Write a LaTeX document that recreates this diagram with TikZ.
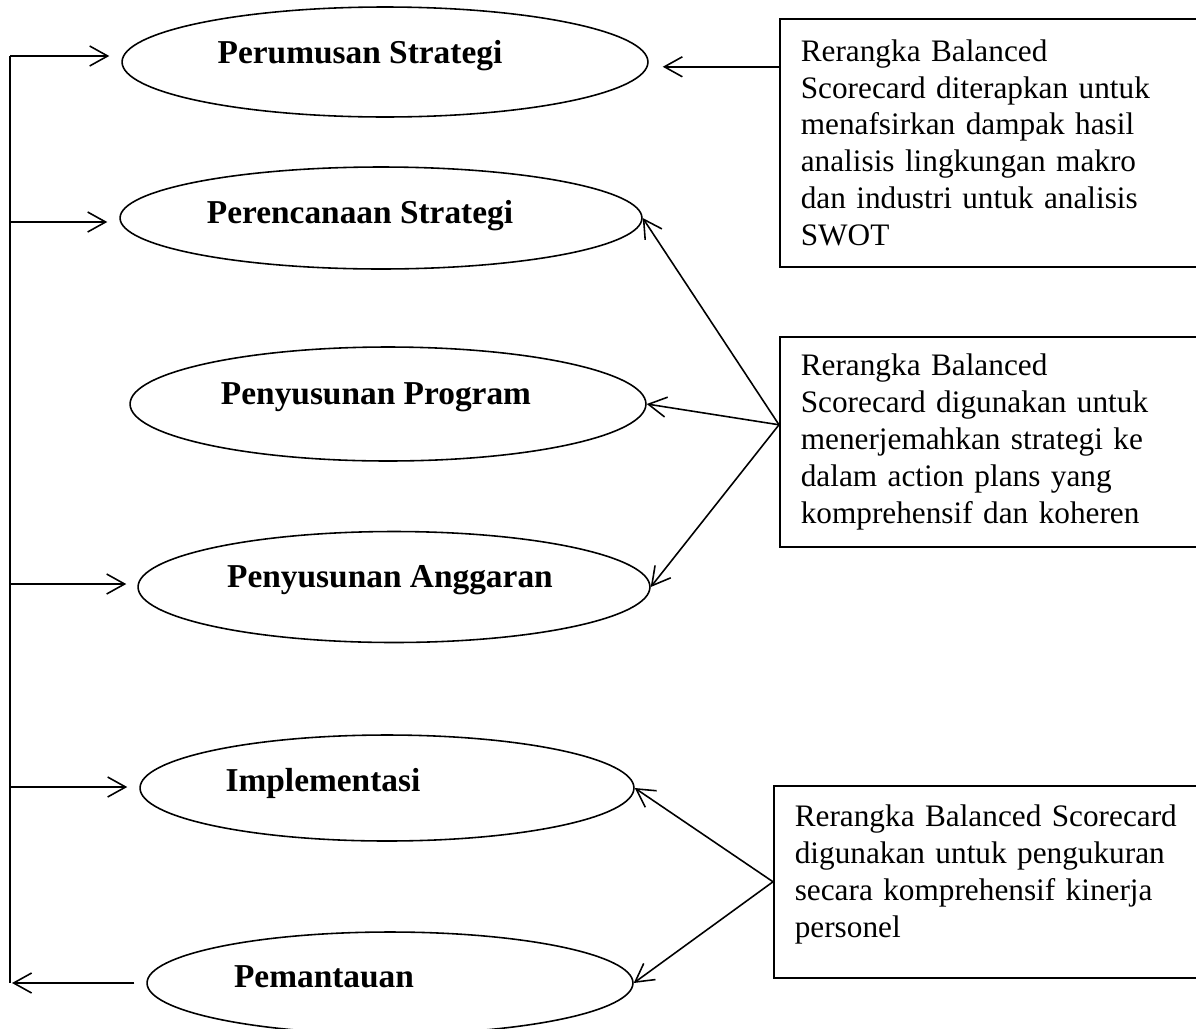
\documentclass[tikz,border=0pt]{standalone}
\usepackage{fontspec}
\setmainfont{Liberation Serif}
\usetikzlibrary{arrows.meta,shapes.geometric}

\begin{document}
\begin{tikzpicture}
        [x=0.02cm,y=-0.02cm,line width=0.9pt,
         >={Straight Barb[length=0.36cm,width=0.4cm]},
         stage/.style={draw,ellipse,inner sep=0pt},
         lbl/.style={anchor=base,font=\fontsize{19}{22}\selectfont\bfseries},
         note/.style={draw,anchor=north west,align=left,inner xsep=0.42cm,
                      font=\fontsize{17.8}{21}\selectfont}]
        \useasboundingbox (0,0) rectangle (1196,1028);

        % tahapan
        \node[stage,minimum width=10.52cm,minimum height=2.2cm] (e1) at (385,62) {};
        \node[stage,minimum width=10.44cm,minimum height=2.04cm] (e2) at (381,218) {};
        \node[stage,minimum width=10.32cm,minimum height=2.28cm] (e3) at (388,404) {};
        \node[stage,minimum width=10.24cm,minimum height=2.22cm] (e4) at (394,587) {};
        \node[stage,minimum width=9.88cm,minimum height=2.12cm] (e5) at (387,788) {};
        \node[stage,minimum width=9.72cm,minimum height=2.04cm] (e6) at (390,983) {};

        \node[lbl] (t1) at (360,63) {Perumusan Strategi};
        \node[lbl] (t2) at (360,223) {Perencanaan Strategi};
        \node[lbl] (t3) at (376,404) {Penyusunan Program};
        \node[lbl] (t4) at (390,587) {Penyusunan Anggaran};
        \node[lbl] (t5) at (323,791) {Implementasi};
        \node[lbl] (t6) at (324,987) {Pemantauan};

        % kotak keterangan
        \node[note,minimum width=9.02cm,minimum height=4.96cm,text width=8.18cm] (box1) at (779,18)
          {Rerangka Balanced\\ Scorecard diterapkan untuk\\ menafsirkan dampak hasil\\
           analisis lingkungan makro\\ dan industri untuk analisis\\ SWOT};
        \node[note,minimum width=9.02cm,minimum height=4.2cm,text width=8.18cm] (box2) at (779,336)
          {Rerangka Balanced\\ Scorecard digunakan untuk\\ menerjemahkan strategi ke\\
           dalam action plans yang\\ komprehensif dan koheren};
        \node[note,minimum width=9.14cm,minimum height=3.84cm,text width=8.3cm] (box3) at (773,785)
          {Rerangka Balanced Scorecard\\ digunakan untuk pengukuran\\ secara komprehensif kinerja\\
           personel\vspace{0.3cm}};

        \coordinate (j1) at ([yshift=1.52cm]box1.west);
        \coordinate (j2) at ([yshift=0.34cm]box2.west);

        % garis umpan balik kiri
        \coordinate (b1) at (10,56);
        \coordinate (b2) at (10,222);
        \coordinate (b4) at (10,584);
        \coordinate (b5) at (10,787);
        \coordinate (b6) at (12,983);
        \draw (b1) -- (10,983);

        \draw[->,shorten >=0.24cm] (b1) -- (b1 -| e1.west);
        \draw[->,shorten >=0.24cm] (b2) -- (b2 -| e2.west);
        \draw[->,shorten >=0.22cm] (b4) -- (b4 -| e4.west);
        \draw[->,shorten >=0.24cm] (b5) -- (b5 -| e5.west);
        \draw[->] ([xshift=-0.24cm]e6.west) -- (b6);

        % panah dari kotak
        \draw[->,shorten >=0.28cm] (j1) -- (j1 -| e1.east);
        \draw[->] (j2) -- (e2.east);
        \draw[->] (j2) -- (e3.east);
        \draw[->] (j2) -- (e4.east);
        \draw[->] (box3.west) -- (e5.east);
        \draw[->] (box3.west) -- (e6.east);
      \end{tikzpicture}
\end{document}
